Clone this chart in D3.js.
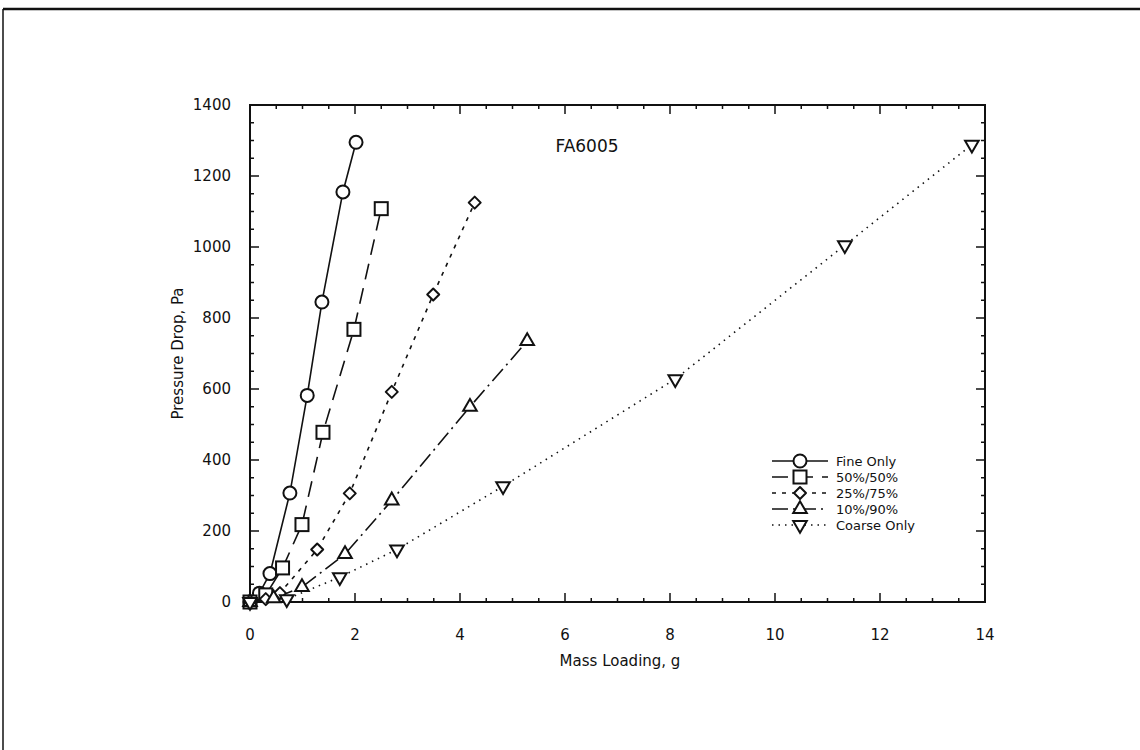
<!DOCTYPE html>
<html>
<head>
<meta charset="utf-8">
<script src="https://cdn.jsdelivr.net/npm/d3@7"></script>
<style>
  body { margin: 0; background: #fff; }
  text { font-family: "DejaVu Sans", sans-serif; fill: #111; }
</style>
</head>
<body>
<div id="chart"></div>
<script>
// series data: [mass loading g, pressure drop Pa]
var fineOnly   = [[0,0],[0.18,25],[0.38,80],[0.76,307],[1.09,582],[1.37,845],[1.77,1155],[2.02,1295]];
var mix5050    = [[0,0],[0.3,20],[0.62,96],[0.99,218],[1.39,478],[1.98,768],[2.5,1108]];
var mix2575    = [[0,0],[0.3,8],[0.57,25],[1.28,148],[1.9,306],[2.7,592],[3.49,866],[4.28,1125]];
var mix1090    = [[0,0],[0.45,10],[0.99,42],[1.81,135],[2.7,286],[4.19,550],[5.28,735]];
var coarseOnly = [[0,0],[0.7,8],[1.71,70],[2.8,148],[4.82,326],[8.1,628],[11.33,1005],[13.75,1288]];

var seriesNames = ["Fine Only", "50%/50%", "25%/75%", "10%/90%", "Coarse Only"];
var xTicks = [0, 2, 4, 6, 8, 10, 12, 14];
var yTicks = [0, 200, 400, 600, 800, 1000, 1200, 1400];

var series = [
  {name: seriesNames[0], values: fineOnly,   dash: null,          symbol: "circle"},
  {name: seriesNames[1], values: mix5050,    dash: "16,9",        symbol: "square"},
  {name: seriesNames[2], values: mix2575,    dash: "4,6",         symbol: "diamond"},
  {name: seriesNames[3], values: mix1090,    dash: "16,5,2,5",    symbol: "triUp"},
  {name: seriesNames[4], values: coarseOnly, dash: "1.5,5",       symbol: "triDown"}
];

var svg = d3.select("#chart").append("svg")
    .attr("width", 1140)
    .attr("height", 750);

// page border (cut off at right/bottom like the scan)
svg.append("line").attr("x1", 3).attr("y1", 9).attr("x2", 1140).attr("y2", 9)
    .style("stroke", "#111").style("stroke-width", 2.5);
svg.append("line").attr("x1", 3).attr("y1", 9).attr("x2", 3).attr("y2", 750)
    .style("stroke", "#111").style("stroke-width", 1.5);

var plotLeft = 250, plotRight = 985, plotTop = 105, plotBottom = 602;

var x = d3.scaleLinear().domain([0, 14]).range([plotLeft, plotRight]);
var y = d3.scaleLinear().domain([0, 1400]).range([plotBottom, plotTop]);

//frame
svg.append("rect")
    .attr("x", plotLeft).attr("y", plotTop)
    .attr("width", plotRight - plotLeft).attr("height", plotBottom - plotTop)
    .style("fill", "none").style("stroke", "#111").style("stroke-width", 2);

//ticks on all four sides, pointing inward
var xMinor = d3.range(0, 14.01, 0.5);
var yMinor = d3.range(0, 1400.1, 50);

function isMajor(v, step) { return Math.abs(v / step - Math.round(v / step)) < 1e-6; }

var tickG = svg.append("g").style("stroke", "#111").style("stroke-width", 1.5);
xMinor.forEach(function(v) {
  var len = isMajor(v, 2) ? 9 : 4;
  tickG.append("line").attr("x1", x(v)).attr("x2", x(v)).attr("y1", plotBottom).attr("y2", plotBottom - len);
  tickG.append("line").attr("x1", x(v)).attr("x2", x(v)).attr("y1", plotTop).attr("y2", plotTop + len);
});
yMinor.forEach(function(v) {
  var len = isMajor(v, 200) ? 9 : 4;
  tickG.append("line").attr("y1", y(v)).attr("y2", y(v)).attr("x1", plotLeft).attr("x2", plotLeft + len);
  tickG.append("line").attr("y1", y(v)).attr("y2", y(v)).attr("x1", plotRight).attr("x2", plotRight - len);
});

//tick labels
svg.selectAll(".xlab")
    .data(xTicks)
    .enter().append("text")
    .attr("class", "xlab")
    .attr("x", function(d) { return x(d); })
    .attr("y", 640)
    .attr("text-anchor", "middle")
    .style("font-size", "15px")
    .text(function(d) { return d; });

svg.selectAll(".ylab")
    .data(yTicks)
    .enter().append("text")
    .attr("class", "ylab")
    .attr("x", 231)
    .attr("y", function(d) { return y(d); })
    .attr("dy", "0.35em")
    .attr("text-anchor", "end")
    .style("font-size", "15px")
    .text(function(d) { return d; });

//axis titles
svg.append("text")
    .attr("x", 620).attr("y", 666)
    .attr("text-anchor", "middle")
    .style("font-size", "15px")
    .text("Mass Loading, g");

svg.append("text")
    .attr("transform", "translate(183," + ((plotTop + plotBottom) / 2) + ") rotate(-90)")
    .attr("text-anchor", "middle")
    .style("font-size", "15px")
    .text("Pressure Drop, Pa");

svg.append("text")
    .attr("x", 587).attr("y", 152)
    .attr("text-anchor", "middle")
    .style("font-size", "17px")
    .text("FA6005");

//marker drawing
function drawMarker(g, sym, cx, cy) {
  var m;
  if (sym === "circle") {
    m = g.append("circle").attr("cx", cx).attr("cy", cy).attr("r", 6.5);
  } else if (sym === "square") {
    m = g.append("rect").attr("x", cx - 6.5).attr("y", cy - 6.5).attr("width", 13).attr("height", 13);
  } else if (sym === "diamond") {
    m = g.append("path")
        .attr("d", "M0,-6L6,0L0,6L-6,0Z")
        .attr("transform", "translate(" + cx + "," + cy + ")")
        .style("stroke-linejoin", "round");
  } else if (sym === "triUp") {
    m = g.append("path").attr("d", d3.symbol(d3.symbolTriangle, 80)()).attr("transform", "translate(" + cx + "," + cy + ")");
  } else {
    m = g.append("path").attr("d", d3.symbol(d3.symbolTriangle, 80)()).attr("transform", "translate(" + cx + "," + cy + ") rotate(180)");
  }
  m.style("fill", "#fff").style("stroke", "#111").style("stroke-width", 2);
}

var line = d3.line()
    .x(function(d) { return x(d[0]); })
    .y(function(d) { return y(d[1]); });

series.forEach(function(s) {
  svg.append("path")
      .datum(s.values)
      .attr("d", line)
      .style("fill", "none")
      .style("stroke", "#111")
      .style("stroke-width", 1.6)
      .style("stroke-dasharray", s.dash);
});

series.forEach(function(s) {
  var g = svg.append("g");
  s.values.forEach(function(d) { drawMarker(g, s.symbol, x(d[0]), y(d[1])); });
});

//legend
var legendY = [461, 477, 493, 509, 525];
series.forEach(function(s, i) {
  var g = svg.append("g");
  g.append("line")
      .attr("x1", 772).attr("x2", 828)
      .attr("y1", legendY[i]).attr("y2", legendY[i])
      .style("stroke", "#111").style("stroke-width", 1.6)
      .style("stroke-dasharray", s.dash);
  drawMarker(g, s.symbol, 800, legendY[i]);
  g.append("text")
      .attr("x", 836).attr("y", legendY[i])
      .attr("dy", "0.35em")
      .style("font-size", "13px")
      .text(s.name);
});
</script>
</body>
</html>
